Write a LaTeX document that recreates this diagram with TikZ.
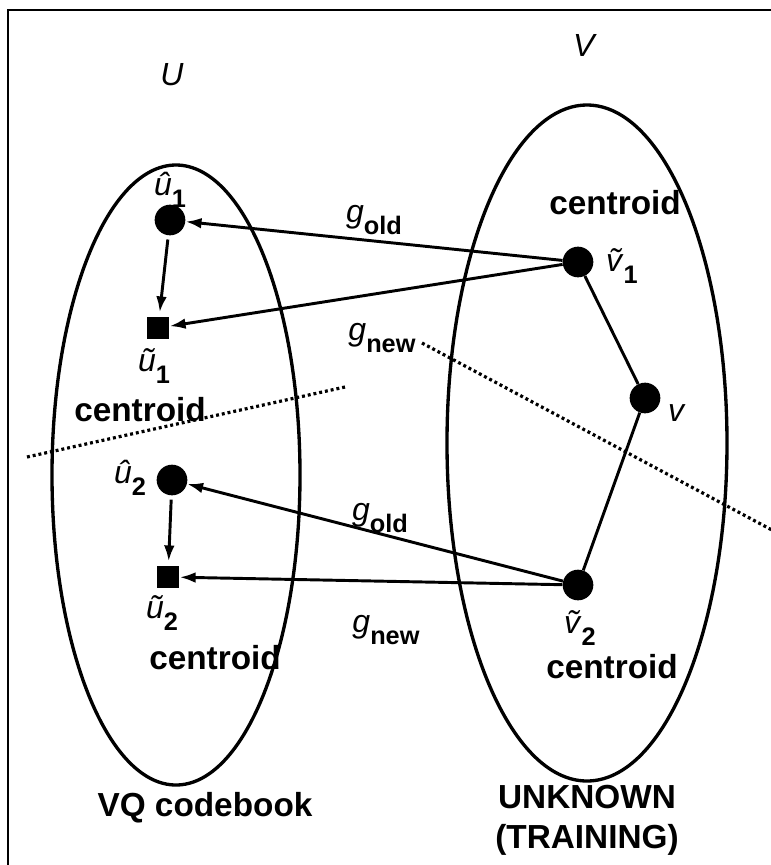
\documentclass[tikz,border=0pt]{standalone}
\usepackage{fontspec}
\setmainfont{Liberation Sans}
\usetikzlibrary{arrows.meta}

\newcommand{\sub}[2]{#1\raisebox{-0.38em}{\fontsize{19}{19}\selectfont\bfseries #2}}
\newcommand{\hatsym}[2]{\sub{\textit{\^{#1}}}{#2}}
\newcommand{\tildesym}[2]{\sub{\textit{\~{#1}}}{#2}}

\tikzset{
  dot/.style={circle,fill=black,inner sep=0pt,minimum size=23pt},
  box/.style={rectangle,fill=black,inner sep=0pt,minimum size=17pt},
  lbl/.style={inner sep=0.75pt,font=\fontsize{24}{28}\selectfont},
  word/.style={inner sep=0.75pt,font=\fontsize{25}{30}\selectfont\bfseries,align=center},
  map/.style={line width=2.2pt,-{Latex[length=12pt,width=8pt]}},
  border/.style={dash pattern=on 2.2pt off 2.2pt,line width=2.4pt}
}

\begin{document}
\begin{tikzpicture}[x=0.75pt,y=0.75pt,yscale=-1,xscale=1]
\useasboundingbox (0,0) rectangle (771,865);
\fill[white] (0,0) rectangle (771,865);
% frame
\draw[line width=1.8pt] (8,900) -- (8,10) -- (800,10);
% sets
\draw[line width=2.5pt] (176,475) ellipse [x radius=124, y radius=310];
\draw[line width=2.5pt] (587,443) ellipse [x radius=140, y radius=338];
\draw (172,75) node[lbl] (U) {\textit{U}};
\draw (585,45) node[lbl] (V) {\textit{V}};
% points
\node[dot] (uh1) at (170,220) {};
\node[box] (ut1) at (158,328) {};
\node[dot] (uh2) at (172,480) {};
\node[box] (ut2) at (168,577) {};
\node[dot] (vt1) at (578,262) {};
\node[dot] (v) at (645,398) {};
\node[dot] (vt2) at (578,585) {};
% decision boundaries
\draw[border] (27,457) -- (345,387);
\draw[border] (422,343) -- (800,545);
% mappings
\draw[map] (vt1) -- (uh1);
\draw[map] (vt1) -- (ut1);
\draw[map] (vt2) -- (uh2);
\draw[map] (vt2) -- (ut2);
\draw[map,shorten <=3pt,shorten >=3pt] (uh1) -- (ut1);
\draw[map,shorten <=3pt,shorten >=3pt] (uh2) -- (ut2);
\draw[line width=2.2pt] (vt1) -- (v) -- (vt2);
% labels
\draw (170,190) node[lbl] (luh1) {\hatsym{u}{1}};
\draw (154,366) node[lbl] (lut1) {\tildesym{u}{1}};
\draw (140,410) node[word] (c1) {centroid};
\draw (130,478) node[lbl] (luh2) {\hatsym{u}{2}};
\draw (162,613) node[lbl] (lut2) {\tildesym{u}{2}};
\draw (215,658) node[word] (c2) {centroid};
\draw (374,220) node[lbl] (go1) {\sub{\textit{g}}{old}};
\draw (382,338) node[lbl] (gn1) {\sub{\textit{g}}{new}};
\draw (380,518) node[lbl] (go2) {\sub{\textit{g}}{old}};
\draw (386,630) node[lbl] (gn2) {\sub{\textit{g}}{new}};
\draw (615,203) node[word] (c3) {centroid};
\draw (622,266) node[lbl] (lvt1) {\tildesym{v}{1}};
\draw (677,413) node[lbl] (lv) {\textit{v}};
\draw (580,628) node[lbl] (lvt2) {\tildesym{v}{2}};
\draw (612,667) node[word] (c4) {centroid};
\draw (205,808) node[word] (cb) {VQ codebook};
\draw (587,820) node[word] (tr) {UNKNOWN\\(TRAINING)};
\end{tikzpicture}
\end{document}
